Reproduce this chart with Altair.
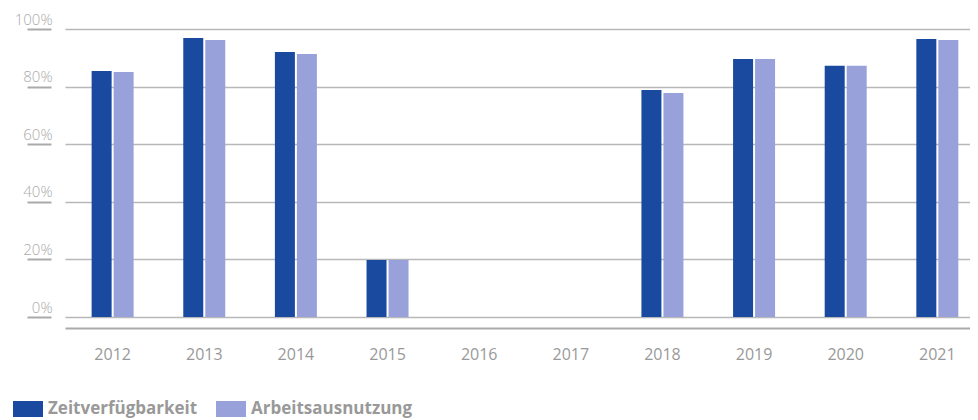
import altair as alt
import pandas as pd

years = ["2012", "2013", "2014", "2015", "2016", "2017", "2018", "2019", "2020", "2021"]
zeitverfuegbarkeit = [85.4, 96.9, 92.0, 19.8, None, None, 78.8, 89.6, 87.2, 96.5]
arbeitsausnutzung = [85.1, 96.2, 91.3, 19.8, None, None, 77.8, 89.6, 87.2, 96.2]
series = ["Zeitverfügbarkeit", "Arbeitsausnutzung"]
colors = ["#1a4a9f", "#99a1db"]
y_ticks = [0, 20, 40, 60, 80, 100]

rows = []
for i, yr in enumerate(years):
    for name, vals in zip(series, [zeitverfuegbarkeit, arbeitsausnutzung]):
        if vals[i] is not None:
            rows.append({"Jahr": yr, "Reihe": name, "Wert": vals[i]})
df = pd.DataFrame(rows)

FONT = "Open Sans"

chart = alt.Chart(df).mark_bar().encode(
    x=alt.X("Jahr:N", sort=years,
            scale=alt.Scale(domain=years, range=[0, 920], paddingInner=0, paddingOuter=0.02),
            axis=alt.Axis(title=None, labelAngle=0, ticks=False, offset=11,
                          domainColor="#aaaaaa", domainWidth=2, labelPadding=18,
                          labelFontSize=16, labelColor="#999999", labelFont=FONT,
                          grid=False)),
    xOffset=alt.XOffset("Reihe:N", sort=series,
                        scale=alt.Scale(domain=series, range=[24.8, 66.8],
                                        paddingInner=0.0909, paddingOuter=0)),
    y=alt.Y("Wert:Q", scale=alt.Scale(domain=[0, 100], nice=False),
            axis=alt.Axis(title=None, values=y_ticks, labelExpr="datum.value + '%'",
                          offset=14, domain=False, tickSize=24, tickColor="#aaaaaa", tickWidth=2,
                          labelAlign="right", labelPadding=-25, labelBaseline="alphabetic",
                          labelOffset=-5, labelFontSize=15, labelColor="#aaaaaa",
                          labelFont=FONT, labelFontWeight=300,
                          grid=True, gridColor="#b8b8b8", gridWidth=1.5)),
    color=alt.Color("Reihe:N", sort=series,
                    scale=alt.Scale(domain=series, range=colors),
                    legend=alt.Legend(title=None, orient="none", direction="horizontal",
                                      legendX=-52, legendY=365,
                                      symbolType="M-1,-0.533H1V0.533H-1Z", symbolSize=900,
                                      symbolStrokeWidth=0, symbolOpacity=1, labelLimit=0,
                                      labelFont=FONT, labelFontSize=17, labelFontWeight="bold",
                                      labelColor="#999999", labelOffset=5, columnPadding=18)),
).properties(
    width=905,
    height=288,
    autosize=alt.AutoSizeParams(type="none"),
    padding={"left": 57, "top": 21, "right": 0, "bottom": 103},
).configure_view(stroke=None)

chart.save("out.html", embed_options={"renderer": "svg", "actions": False})
